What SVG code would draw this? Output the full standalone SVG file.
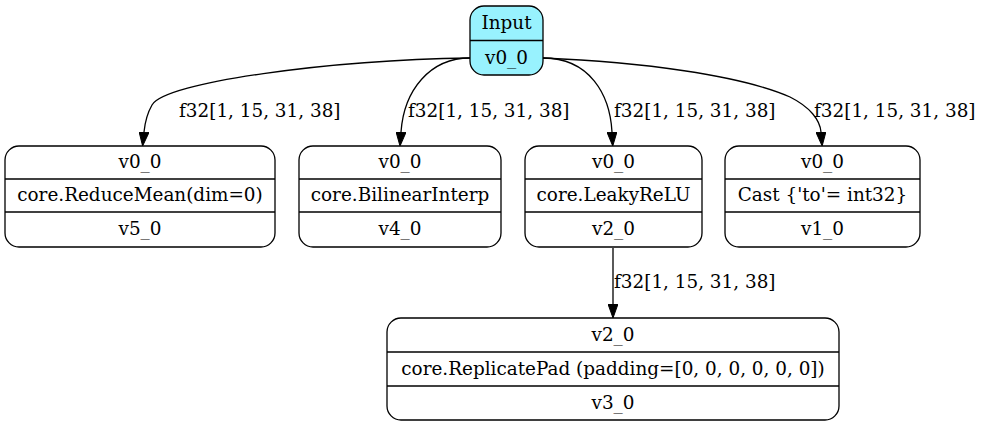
<svg xmlns="http://www.w3.org/2000/svg" width="985" height="427" viewBox="0 0 985 427">
<style>
  .box { fill: none; stroke: #000; stroke-width: 1.3; }
  .in { fill: #98f2fe; stroke: #000; stroke-width: 1.3; }
  .div { stroke: #000; stroke-width: 1.3; }
  text { font-family: "DejaVu Serif", "Liberation Serif", serif; font-size: 18.4px; fill: #000; }
  .c { text-anchor: middle; }
  .edge { fill: none; stroke: #000; stroke-width: 1.3; marker-end: url(#arr); }
</style>
<defs>
  <marker id="arr" viewBox="0 0 14 10" refX="0" refY="5" markerWidth="14" markerHeight="10" markerUnits="userSpaceOnUse" orient="auto">
    <path d="M0,0 L14,5 L0,10 z" fill="#000" stroke="#000" stroke-width="1"/>
  </marker>
</defs>
<rect width="985" height="427" fill="#fff"/>

<g id="edges">
  <path class="edge" d="M470,58 C330,60 165,82 152,105 C148,112 145,122 144,132"/>
  <text x="179" y="117">f32[1, 15, 31, 38]</text>
  <path class="edge" d="M470,58 C430,58 404,90 401,132"/>
  <text x="408" y="117">f32[1, 15, 31, 38]</text>
  <path class="edge" d="M543,58 C590,58 610,95 612,132"/>
  <text x="614" y="117">f32[1, 15, 31, 38]</text>
  <path class="edge" d="M543,58 C640,62 740,75 790,97 C810,107 820,120 821,132"/>
  <text x="814" y="117">f32[1, 15, 31, 38]</text>
  <path class="edge" d="M613,248 L613,304"/>
  <text x="614" y="288">f32[1, 15, 31, 38]</text>
</g>

<g id="input">
  <rect class="in" x="470" y="6" width="73" height="69" rx="14" ry="14"/>
  <line class="div" x1="470" y1="40.5" x2="543" y2="40.5"/>
  <text class="c" x="506.5" y="28.5">Input</text>
  <text class="c" x="506.5" y="63.5">v0_0</text>
</g>

<g id="reducemean">
  <rect class="box" x="5" y="146" width="270" height="101" rx="14" ry="14"/>
  <line class="div" x1="5" y1="179" x2="275" y2="179"/>
  <line class="div" x1="5" y1="212" x2="275" y2="212"/>
  <text class="c" x="140" y="168">v0_0</text>
  <text class="c" x="140" y="201">core.ReduceMean(dim=0)</text>
  <text class="c" x="140" y="235">v5_0</text>
</g>

<g id="bilinear">
  <rect class="box" x="299" y="146" width="202" height="101" rx="14" ry="14"/>
  <line class="div" x1="299" y1="179" x2="501" y2="179"/>
  <line class="div" x1="299" y1="212" x2="501" y2="212"/>
  <text class="c" x="400" y="168">v0_0</text>
  <text class="c" x="400" y="201">core.BilinearInterp</text>
  <text class="c" x="400" y="235">v4_0</text>
</g>

<g id="leakyrelu">
  <rect class="box" x="525" y="146" width="177" height="101" rx="14" ry="14"/>
  <line class="div" x1="525" y1="179" x2="702" y2="179"/>
  <line class="div" x1="525" y1="212" x2="702" y2="212"/>
  <text class="c" x="613.5" y="168">v0_0</text>
  <text class="c" x="613.5" y="201">core.LeakyReLU</text>
  <text class="c" x="613.5" y="235">v2_0</text>
</g>

<g id="cast">
  <rect class="box" x="725" y="146" width="195" height="101" rx="14" ry="14"/>
  <line class="div" x1="725" y1="179" x2="920" y2="179"/>
  <line class="div" x1="725" y1="212" x2="920" y2="212"/>
  <text class="c" x="822.5" y="168">v0_0</text>
  <text class="c" x="822.5" y="201">Cast {'to'= int32}</text>
  <text class="c" x="822.5" y="235">v1_0</text>
</g>

<g id="replicatepad">
  <rect class="box" x="387" y="318" width="452" height="102" rx="14" ry="14"/>
  <line class="div" x1="387" y1="352" x2="839" y2="352"/>
  <line class="div" x1="387" y1="386" x2="839" y2="386"/>
  <text class="c" x="613" y="341">v2_0</text>
  <text class="c" x="613" y="375">core.ReplicatePad (padding=[0, 0, 0, 0, 0, 0])</text>
  <text class="c" x="613" y="408.5">v3_0</text>
</g>
</svg>
